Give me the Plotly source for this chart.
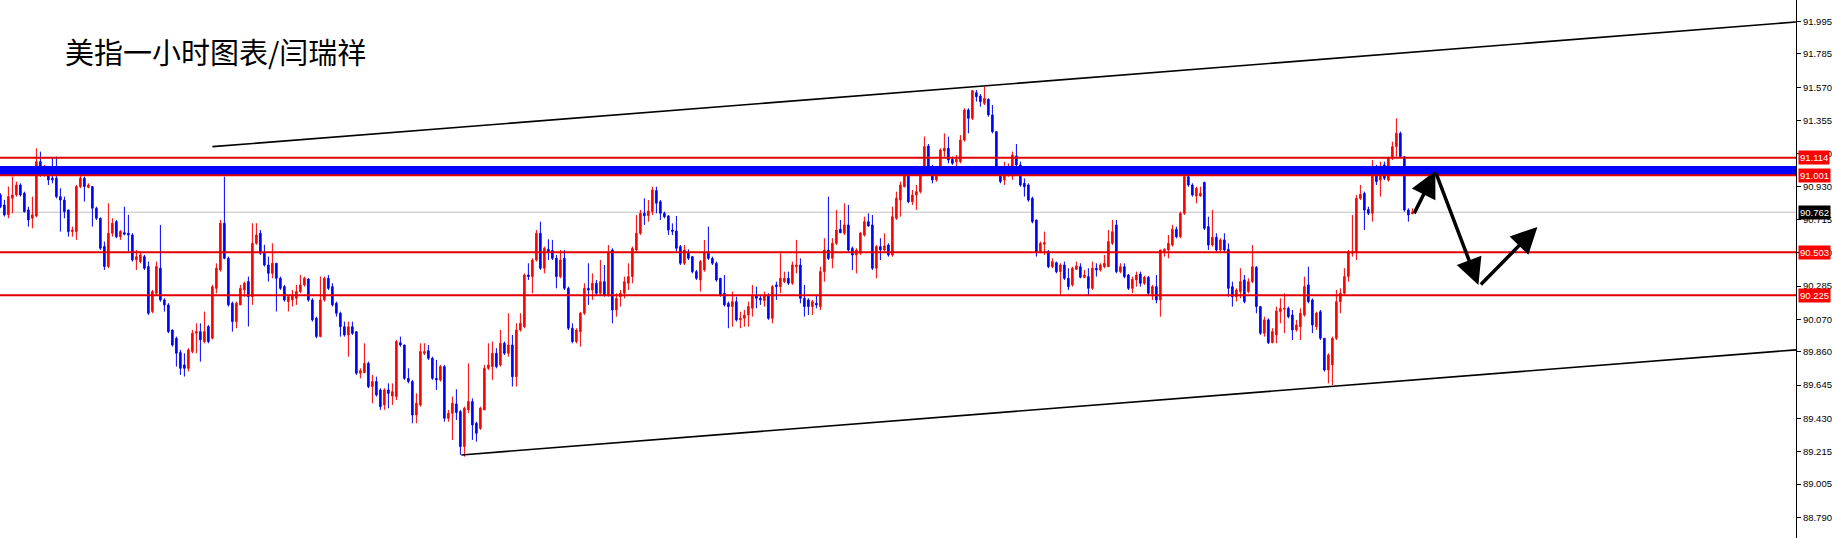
import plotly.graph_objects as go

# ---- candle data (USD index, 1-hour) ----
open_ = [
90.874,90.809,90.745,90.852,90.874,90.938,90.885,90.777,90.723,90.738,
91.089,91.003,91.003,90.982,90.982,90.863,90.841,90.777,90.637,90.637,
90.928,90.982,90.923,90.928,90.788,90.723,90.540,90.411,90.626,90.701,
90.604,90.630,90.626,90.615,90.454,90.443,90.475,90.411,90.120,90.238,
90.400,90.195,90.163,90.001,89.947,89.855,89.775,89.753,89.861,89.980,
89.990,89.926,90.023,89.947,90.270,90.389,90.691,90.464,90.174,90.055,
90.163,90.260,90.314,90.216,90.561,90.626,90.497,90.421,90.367,90.432,
90.335,90.281,90.184,90.195,90.206,90.249,90.292,90.330,90.195,90.077,
89.958,90.195,90.335,90.281,90.173,90.109,90.022,89.969,90.022,89.990,
89.721,89.725,89.785,89.635,89.667,89.613,89.516,89.613,89.574,89.570,
89.919,89.904,89.688,89.667,89.451,89.516,89.850,89.867,89.818,89.688,
89.678,89.764,89.430,89.462,89.523,89.473,89.247,89.484,89.538,89.398,
89.365,89.484,89.753,89.764,89.850,89.775,89.915,89.850,89.904,89.699,
90.001,90.022,90.356,90.346,90.453,90.626,90.400,90.522,90.514,90.464,
90.346,90.464,90.270,90.012,89.926,89.990,90.109,90.270,90.259,90.303,
90.238,90.313,90.227,90.518,90.130,90.216,90.238,90.303,90.346,90.518,
90.626,90.755,90.740,90.766,90.902,90.830,90.755,90.738,90.647,90.641,
90.540,90.432,90.497,90.475,90.378,90.324,90.389,90.497,90.464,90.432,
90.335,90.238,90.173,90.152,90.184,90.066,90.076,90.098,90.141,90.227,
90.206,90.191,90.227,90.076,90.292,90.281,90.313,90.335,90.303,90.410,
90.421,90.206,90.195,90.152,90.173,90.152,90.378,90.518,90.464,90.561,
90.652,90.626,90.680,90.529,90.486,90.497,90.615,90.701,90.680,90.400,
90.540,90.518,90.550,90.486,90.723,90.841,90.927,90.996,90.830,90.873,
90.895,91.035,91.190,91.035,90.971,91.014,91.158,91.175,91.104,91.089,
91.089,91.229,91.423,91.369,91.535,91.513,91.466,91.492,91.391,91.283,
91.035,90.971,91.014,91.035,91.126,91.068,90.949,90.938,90.852,90.712,
90.507,90.555,90.507,90.410,90.436,90.378,90.421,90.335,90.292,90.393,
90.410,90.341,90.346,90.270,90.400,90.389,90.410,90.410,90.561,90.680,
90.378,90.410,90.356,90.270,90.324,90.363,90.303,90.341,90.234,90.281,
90.195,90.507,90.518,90.550,90.652,90.604,90.755,90.992,90.938,90.867,
90.867,90.955,90.669,90.550,90.600,90.518,90.583,90.522,90.281,90.216,
90.249,90.324,90.249,90.313,90.406,90.152,89.980,90.066,89.919,89.969,
90.120,90.135,90.141,90.098,90.001,90.022,90.098,90.292,90.195,90.022,
90.119,89.947,89.742,89.775,89.947,90.184,90.238,90.346,90.497,90.507,
90.852,90.884,90.780,90.755,91.046,90.970,91.068,90.970,91.111,91.186,
91.272,91.121,90.776,90.752]
high = [
90.885,90.842,90.928,90.992,90.960,90.949,90.895,90.798,90.863,91.175,
91.154,91.068,91.046,91.111,91.122,90.917,90.863,90.777,90.669,90.938,
91.014,90.992,90.949,90.928,90.798,90.728,90.572,90.820,90.723,90.712,
90.647,90.798,90.745,90.626,90.518,90.508,90.486,90.443,90.260,90.443,
90.680,90.206,90.174,90.001,89.958,89.872,89.850,89.883,90.001,90.044,
90.044,90.120,90.033,90.292,90.432,90.712,90.992,90.475,90.184,90.184,
90.292,90.314,90.346,90.691,90.691,90.647,90.551,90.475,90.561,90.432,
90.346,90.292,90.227,90.260,90.292,90.357,90.346,90.335,90.206,90.087,
90.346,90.346,90.356,90.303,90.184,90.119,90.055,90.055,90.055,89.990,
89.753,89.915,89.796,89.710,89.699,89.624,89.624,89.656,89.656,89.936,
89.958,89.904,89.753,89.678,89.591,89.915,89.915,89.904,89.828,89.807,
89.775,89.775,89.484,89.570,89.617,89.484,89.505,89.785,89.559,89.408,
89.505,89.775,89.915,89.926,89.883,90.001,89.926,90.109,89.969,90.044,
90.109,90.367,90.432,90.464,90.647,90.701,90.540,90.587,90.583,90.486,
90.518,90.518,90.281,90.044,90.012,90.119,90.303,90.432,90.367,90.324,
90.453,90.421,90.550,90.529,90.238,90.259,90.346,90.432,90.540,90.744,
90.777,90.852,90.841,90.927,90.927,90.841,90.766,90.744,90.690,90.738,
90.550,90.550,90.522,90.479,90.389,90.453,90.583,90.669,90.475,90.443,
90.335,90.356,90.184,90.249,90.216,90.119,90.130,90.184,90.292,90.281,
90.227,90.249,90.238,90.292,90.313,90.497,90.378,90.378,90.443,90.583,
90.464,90.292,90.206,90.195,90.227,90.410,90.594,90.863,90.594,90.777,
90.712,90.820,90.809,90.540,90.529,90.636,90.733,90.755,90.744,90.550,
90.594,90.626,90.561,90.798,90.895,90.960,91.009,91.003,90.906,90.938,
91.057,91.251,91.203,91.068,91.035,91.175,91.272,91.251,91.121,91.132,
91.261,91.434,91.434,91.552,91.552,91.526,91.574,91.498,91.455,91.283,
91.046,91.089,91.078,91.154,91.203,91.089,90.981,90.949,90.863,90.712,
90.572,90.637,90.518,90.464,90.443,90.432,90.443,90.400,90.410,90.443,
90.432,90.389,90.400,90.443,90.432,90.432,90.486,90.647,90.712,90.712,
90.432,90.432,90.363,90.346,90.378,90.378,90.352,90.350,90.292,90.356,
90.518,90.529,90.615,90.680,90.669,90.766,91.003,91.003,90.949,90.927,
90.927,90.960,90.733,90.777,90.626,90.594,90.626,90.561,90.313,90.270,
90.400,90.356,90.335,90.550,90.414,90.152,90.087,90.076,90.012,90.152,
90.206,90.238,90.152,90.130,90.066,90.141,90.346,90.410,90.205,90.119,
90.130,89.947,89.850,89.958,90.259,90.270,90.400,90.518,90.744,90.873,
90.938,90.895,90.798,91.100,91.068,91.089,91.089,91.121,91.218,91.369,
91.283,91.121,90.787,90.787]
low = [
90.788,90.734,90.723,90.755,90.863,90.863,90.760,90.669,90.658,90.729,
90.992,90.992,90.938,90.949,90.852,90.637,90.723,90.604,90.604,90.583,
90.917,90.831,90.917,90.669,90.712,90.518,90.389,90.400,90.604,90.594,
90.583,90.613,90.508,90.443,90.389,90.432,90.389,90.098,90.109,90.227,
90.184,90.120,89.980,89.893,89.764,89.710,89.700,89.732,89.850,89.850,
89.796,89.915,89.915,89.941,90.238,90.378,90.458,90.152,89.990,90.012,
90.163,90.216,90.023,90.163,90.551,90.486,90.411,90.314,90.335,90.120,
90.260,90.184,90.120,90.152,90.163,90.238,90.281,90.184,90.055,89.947,
89.953,90.184,90.259,90.152,90.087,89.958,89.958,89.828,89.969,89.710,
89.688,89.721,89.624,89.527,89.570,89.484,89.484,89.495,89.516,89.548,
89.893,89.678,89.656,89.398,89.398,89.505,89.839,89.807,89.678,89.613,
89.667,89.408,89.408,89.290,89.419,89.193,89.182,89.462,89.290,89.279,
89.355,89.484,89.742,89.678,89.753,89.764,89.839,89.828,89.635,89.635,
89.990,90.012,90.324,90.238,90.443,90.389,90.367,90.453,90.453,90.270,
90.335,90.259,90.001,89.915,89.915,89.893,90.098,90.163,90.195,90.227,
90.227,90.216,90.216,90.044,90.087,90.152,90.205,90.259,90.303,90.507,
90.615,90.680,90.701,90.744,90.755,90.712,90.723,90.615,90.615,90.507,
90.421,90.421,90.453,90.367,90.324,90.249,90.378,90.453,90.421,90.313,
90.216,90.152,90.012,90.022,90.055,90.012,90.022,90.022,90.087,90.141,
90.163,90.152,90.066,90.044,90.195,90.238,90.303,90.292,90.292,90.367,
90.173,90.087,90.098,90.098,90.141,90.130,90.313,90.453,90.400,90.550,
90.626,90.615,90.507,90.389,90.367,90.486,90.604,90.669,90.389,90.335,
90.453,90.507,90.475,90.475,90.712,90.733,90.923,90.820,90.809,90.777,
90.884,91.025,91.025,90.949,90.960,91.003,91.121,91.078,91.068,91.035,
91.078,91.218,91.272,91.358,91.477,91.444,91.455,91.380,91.272,91.035,
90.949,90.938,90.992,90.971,91.057,90.927,90.863,90.830,90.690,90.475,
90.497,90.486,90.400,90.400,90.367,90.227,90.324,90.259,90.281,90.389,
90.335,90.335,90.227,90.259,90.346,90.378,90.400,90.410,90.550,90.367,
90.367,90.335,90.259,90.238,90.281,90.281,90.292,90.227,90.195,90.173,
90.087,90.475,90.464,90.540,90.593,90.593,90.744,90.927,90.863,90.820,
90.863,90.647,90.518,90.540,90.507,90.507,90.507,90.216,90.152,90.184,
90.206,90.173,90.238,90.303,90.109,89.969,89.958,89.910,89.915,89.915,
90.044,89.980,90.076,89.936,89.990,89.936,90.087,90.173,89.980,90.001,
89.936,89.732,89.656,89.645,89.936,90.109,90.227,90.313,90.475,90.453,
90.841,90.647,90.744,90.701,90.938,90.863,90.970,90.960,91.100,91.121,
91.111,90.766,90.701,90.750]
close = [
90.798,90.745,90.863,90.874,90.938,90.874,90.766,90.712,90.745,91.089,
91.057,91.040,90.971,90.971,90.863,90.841,90.766,90.637,90.647,90.928,
90.982,90.928,90.938,90.788,90.723,90.529,90.411,90.626,90.691,90.604,
90.637,90.620,90.615,90.454,90.475,90.486,90.400,90.109,90.249,90.411,
90.195,90.163,89.990,89.904,89.850,89.753,89.753,89.872,89.980,89.990,
89.937,89.990,89.926,90.281,90.400,90.691,90.464,90.163,90.055,90.174,
90.270,90.303,90.216,90.561,90.615,90.497,90.421,90.367,90.432,90.335,
90.270,90.195,90.216,90.227,90.249,90.292,90.335,90.195,90.066,89.958,
90.195,90.335,90.270,90.163,90.109,90.022,89.969,90.022,89.979,89.721,
89.738,89.785,89.635,89.667,89.581,89.505,89.613,89.591,89.602,89.926,
89.904,89.688,89.667,89.451,89.527,89.861,89.861,89.818,89.688,89.678,
89.764,89.430,89.462,89.527,89.467,89.247,89.495,89.538,89.387,89.333,
89.495,89.753,89.775,89.850,89.764,89.915,89.850,89.904,89.699,90.001,
90.044,90.356,90.346,90.453,90.626,90.400,90.529,90.507,90.464,90.346,
90.453,90.270,90.012,89.926,90.001,90.109,90.270,90.259,90.303,90.238,
90.313,90.227,90.507,90.130,90.205,90.238,90.313,90.346,90.529,90.626,
90.755,90.740,90.770,90.906,90.820,90.755,90.733,90.647,90.639,90.529,
90.432,90.518,90.464,90.378,90.335,90.443,90.507,90.464,90.432,90.324,
90.227,90.163,90.152,90.184,90.066,90.076,90.098,90.152,90.227,90.206,
90.195,90.221,90.076,90.281,90.281,90.335,90.335,90.303,90.421,90.421,
90.206,90.152,90.152,90.184,90.163,90.378,90.518,90.464,90.561,90.647,
90.630,90.680,90.518,90.486,90.518,90.626,90.701,90.673,90.400,90.540,
90.518,90.544,90.486,90.733,90.852,90.938,90.996,90.830,90.873,90.895,
91.035,91.186,91.035,90.971,91.025,91.165,91.175,91.100,91.078,91.104,
91.229,91.423,91.369,91.548,91.509,91.477,91.498,91.391,91.283,91.057,
90.960,91.025,91.046,91.132,91.068,90.938,90.927,90.841,90.701,90.507,
90.561,90.565,90.410,90.443,90.378,90.421,90.335,90.281,90.400,90.415,
90.341,90.356,90.270,90.400,90.389,90.421,90.432,90.572,90.636,90.378,
90.410,90.346,90.270,90.328,90.356,90.303,90.341,90.238,90.281,90.195,
90.518,90.522,90.561,90.652,90.604,90.755,90.992,90.938,90.873,90.917,
90.884,90.658,90.550,90.600,90.518,90.583,90.518,90.270,90.216,90.259,
90.313,90.184,90.313,90.410,90.152,89.980,90.066,89.919,89.990,90.124,
90.139,90.141,90.087,90.001,90.033,90.109,90.281,90.184,90.033,90.109,
89.947,89.742,89.839,89.947,90.184,90.238,90.346,90.507,90.507,90.852,
90.878,90.776,90.755,91.046,90.960,91.035,90.981,91.111,91.186,91.272,
91.121,90.776,90.744,90.762]
bar_index = list(range(len(close)))

# ---- right price scale ----
tick_vals = [91.995, 91.785, 91.570, 91.355, 91.140, 90.930, 90.715, 90.500,
             90.285, 90.070, 89.860, 89.645, 89.430, 89.215, 89.005, 88.790]
tick_text = ["%.3f" % v for v in tick_vals]

# ---- drawn objects ----
red_levels = [91.114, 91.001, 90.503, 90.225]
blue_zone = [91.003, 91.061]
bid_price = 90.762
tag_levels = [91.114, 91.001, 90.762, 90.503, 90.225]
tag_colors = ["#ff0000", "#ff0000", "#000000", "#ff0000", "#ff0000"]
upper_x = [53, 448.9]
upper_y = [91.186, 91.992]
lower_x = [115.25, 448.9]
lower_y = [89.193, 89.872]
arrow_tail_x = [353.25, 358.75, 369.75]
arrow_tail_y = [90.745, 91.025, 90.285]
arrow_head_x = [358.75, 369.5, 384.25]
arrow_head_y = [91.029, 90.292, 90.667]
title_text = "美指一小时图表/闫瑞祥"

fig = go.Figure()
fig.add_trace(go.Candlestick(
    x=bar_index, open=open_, high=high, low=low, close=close,
    increasing=dict(line=dict(color="#ff0000", width=1), fillcolor="#ff0000"),
    decreasing=dict(line=dict(color="#0000ff", width=1), fillcolor="#0000ff"),
    whiskerwidth=0, showlegend=False, hoverinfo="skip"))
fig.add_trace(go.Scatter(x=upper_x, y=upper_y, mode="lines",
                         line=dict(color="black", width=1.6), showlegend=False, hoverinfo="skip"))
fig.add_trace(go.Scatter(x=lower_x, y=lower_y, mode="lines",
                         line=dict(color="black", width=1.6), showlegend=False, hoverinfo="skip"))

shapes = [dict(type="line", xref="paper", x0=0, x1=1, yref="y", y0=bid_price, y1=bid_price,
               line=dict(color="#c0c0c0", width=1), layer="below")]
shapes.append(dict(type="rect", xref="paper", x0=0, x1=1, yref="y", y0=blue_zone[0], y1=blue_zone[1],
                   fillcolor="#0000ff", line=dict(width=0), layer="above"))
for lv in red_levels:
    shapes.append(dict(type="line", xref="paper", x0=0, x1=1, yref="y", y0=lv, y1=lv,
                       line=dict(color="#e00000", width=2), layer="above"))

ann = []
for lv, col in zip(tag_levels, tag_colors):
    ann.append(dict(xref="paper", x=1, xanchor="left", xshift=2, yref="y", y=lv, yanchor="middle",
                    text="%.3f" % lv, showarrow=False, bgcolor=col, borderpad=1,
                    font=dict(family="Liberation Sans", size=9.5, color="white")))
for tx, ty, hx, hy in zip(arrow_tail_x, arrow_tail_y, arrow_head_x, arrow_head_y):
    ann.append(dict(x=hx, y=hy, xref="x", yref="y", ax=tx, ay=ty, axref="x", ayref="y",
                    showarrow=True, arrowhead=2, arrowsize=1.5, arrowwidth=3.5,
                    arrowcolor="black", standoff=0, startstandoff=0, text=""))
ann.append(dict(xref="paper", yref="paper", x=63 / 1796, y=1 - 51 / 538, xanchor="left",
                yanchor="middle", text=title_text, showarrow=False,
                font=dict(family="Noto Sans CJK SC", size=29, color="black")))

fig.update_layout(
    width=1832, height=538,
    margin=dict(l=0, r=36, t=0, b=0),
    paper_bgcolor="white", plot_bgcolor="white",
    boxgap=0.45,
    shapes=shapes, annotations=ann,
    xaxis=dict(range=[-0.1, 448.9], visible=False, rangeslider=dict(visible=False),
               showgrid=False, zeroline=False),
    yaxis=dict(range=[88.656, 92.134], side="right", showgrid=False, zeroline=False,
               showline=True, linecolor="black", linewidth=1, ticks="outside",
               ticklen=4, tickcolor="black", tickvals=tick_vals, ticktext=tick_text,
               tickfont=dict(family="Liberation Sans", size=9.5, color="black"),
               automargin=False),
)
fig.write_html("out.html", config={"displayModeBar": False},
               post_script="document.body.style.margin='0px';document.body.style.overflow='hidden';")
